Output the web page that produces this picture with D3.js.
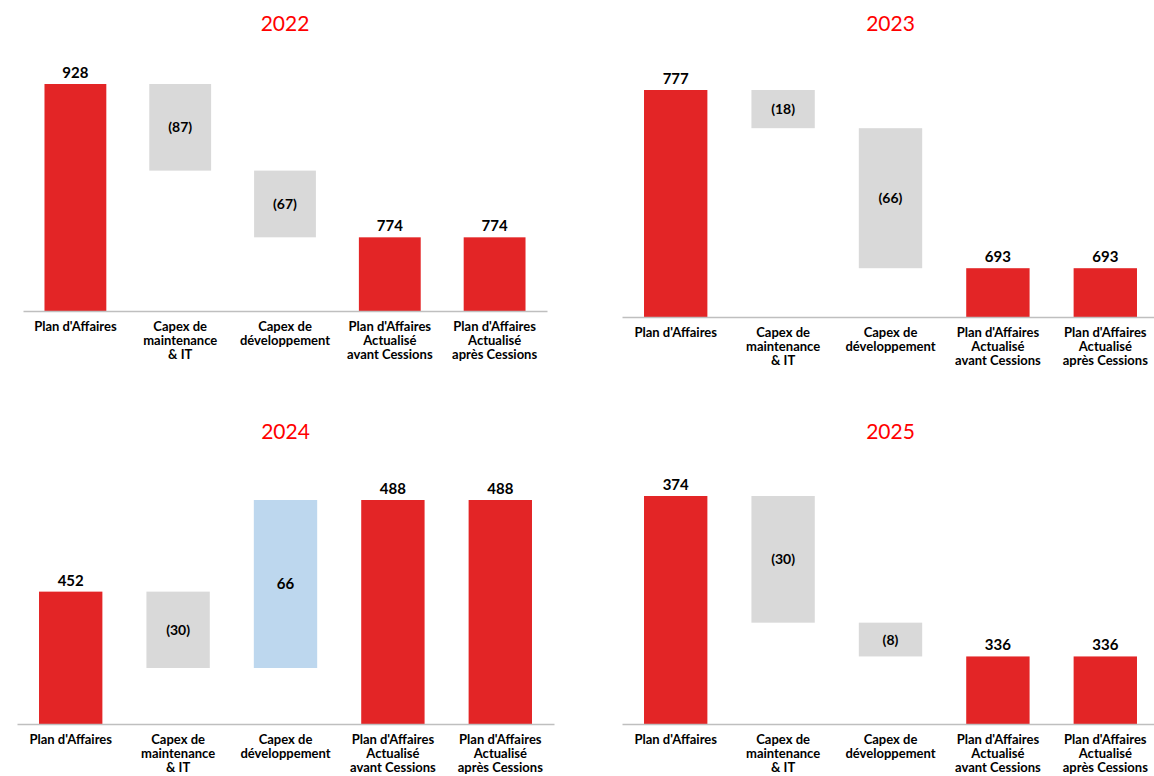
<!DOCTYPE html>
<html>
<head>
<meta charset="utf-8">
<script src="https://cdn.jsdelivr.net/npm/d3@7"></script>
<style>
  html, body { margin: 0; padding: 0; background: #ffffff; }
  svg { display: block; }
  .title { font-family: Lato, "Open Sans", sans-serif; font-weight: 400; fill: #ff0000; }
  .value, .delta, .cat { font-family: Lato, "Open Sans", sans-serif; font-weight: 700; fill: #000000; }
</style>
</head>
<body>
<svg id="chart" width="1154" height="776"></svg>
<script>
// Bridge of the business plan, one waterfall per year
const years = ["2022", "2023", "2024", "2025"];

const categories = [
  ["Plan d'Affaires"],
  ["Capex de", "maintenance", "& IT"],
  ["Capex de", "développement"],
  ["Plan d'Affaires", "Actualisé", "avant Cessions"],
  ["Plan d'Affaires", "Actualisé", "après Cessions"]
];

const planValues        = [928, 777, 452, 374];
const maintenanceDeltas = [-87, -18, -30, -30];
const developmentDeltas = [-67, -66, 66, -8];
const beforeDisposals   = [774, 693, 488, 336];
const afterDisposals    = [774, 693, 488, 336];

// value sitting on the x axis of each (truncated) panel
const axisFloors = [700, 670, 400, 320];

// panel frames: horizontal extent of the axis, baseline, top of the tallest bar, title baseline
const frames = [
  { x0: 23,  x1: 547,  base: 311, top: 84,  titleY: 31 },
  { x0: 622, x1: 1159, base: 317, top: 90,  titleY: 31 },
  { x0: 17,  x1: 554,  base: 724, top: 500, titleY: 439 },
  { x0: 622, x1: 1159, base: 724, top: 496, titleY: 439 }
];

const RED = "#e32526", GREY = "#d9d9d9", BLUE = "#bdd7ee", AXIS = "#bfbfbf";

const svg = d3.select("#chart");

function fmtDelta(v) { return v < 0 ? "(" + Math.abs(v) + ")" : String(v); }

years.forEach((year, i) => {
  const f = frames[i];
  const floor = axisFloors[i];

  const afterMaint = planValues[i] + maintenanceDeltas[i];
  const afterDev = afterMaint + developmentDeltas[i];

  const steps = [
    { type: "total", lo: floor, hi: planValues[i], value: planValues[i] },
    { type: "delta", lo: Math.min(planValues[i], afterMaint), hi: Math.max(planValues[i], afterMaint), value: maintenanceDeltas[i] },
    { type: "delta", lo: Math.min(afterMaint, afterDev), hi: Math.max(afterMaint, afterDev), value: developmentDeltas[i] },
    { type: "total", lo: floor, hi: beforeDisposals[i], value: beforeDisposals[i] },
    { type: "total", lo: floor, hi: afterDisposals[i], value: afterDisposals[i] }
  ];

  const maxVal = d3.max(steps, d => d.hi);

  const x = d3.scaleBand()
    .domain(d3.range(categories.length))
    .range([f.x0, f.x1])
    .paddingInner(0.41)
    .paddingOuter(0.205);

  const y = d3.scaleLinear()
    .domain([floor, maxVal])
    .range([f.base, f.top]);

  const g = svg.append("g");

  // year title
  g.append("text")
    .attr("class", "title")
    .attr("x", (f.x0 + f.x1) / 2)
    .attr("y", f.titleY)
    .attr("text-anchor", "middle")
    .style("font-size", "21px")
    .text(year);

  // bars
  g.selectAll("rect.bar")
    .data(steps)
    .join("rect")
    .attr("class", "bar")
    .attr("x", (d, k) => x(k))
    .attr("width", x.bandwidth())
    .attr("y", d => y(d.hi))
    .attr("height", d => y(d.lo) - y(d.hi))
    .attr("fill", d => d.type === "total" ? RED : (d.value < 0 ? GREY : BLUE));

  // totals: value above the bar
  g.selectAll("text.value")
    .data(steps.map((d, k) => ({ ...d, k })).filter(d => d.type === "total"))
    .join("text")
    .attr("class", "value")
    .attr("x", d => x(d.k) + x.bandwidth() / 2)
    .attr("y", d => y(d.hi) - 6)
    .attr("text-anchor", "middle")
    .style("font-size", "15px")
    .text(d => d.value);

  // deltas: value centred inside the floating box
  g.selectAll("text.delta")
    .data(steps.map((d, k) => ({ ...d, k })).filter(d => d.type === "delta"))
    .join("text")
    .attr("class", "delta")
    .attr("x", d => x(d.k) + x.bandwidth() / 2)
    .attr("y", d => (y(d.lo) + y(d.hi)) / 2)
    .attr("dy", "0.36em")
    .attr("text-anchor", "middle")
    .style("font-size", d => d.value > 0 ? "15px" : "14px")
    .text(d => fmtDelta(d.value));

  // x axis with multi-line category labels
  const axis = g.append("g")
    .attr("transform", `translate(0,${f.base})`)
    .call(d3.axisBottom(x).tickSize(0).tickPadding(0).tickFormat(""));

  axis.select(".domain").attr("stroke", AXIS).attr("stroke-width", 1.5);

  axis.selectAll(".tick text").remove();
  axis.selectAll(".tick").each(function (k) {
    const t = d3.select(this).append("text")
      .attr("class", "cat")
      .attr("text-anchor", "middle")
      .attr("fill", "#000")
      .style("font-size", "13px");
    categories[k].forEach((line, j) => {
      t.append("tspan")
        .attr("x", 0)
        .attr("y", 20 + j * 14.2)
        .text(line);
    });
  });
});
</script>
</body>
</html>
